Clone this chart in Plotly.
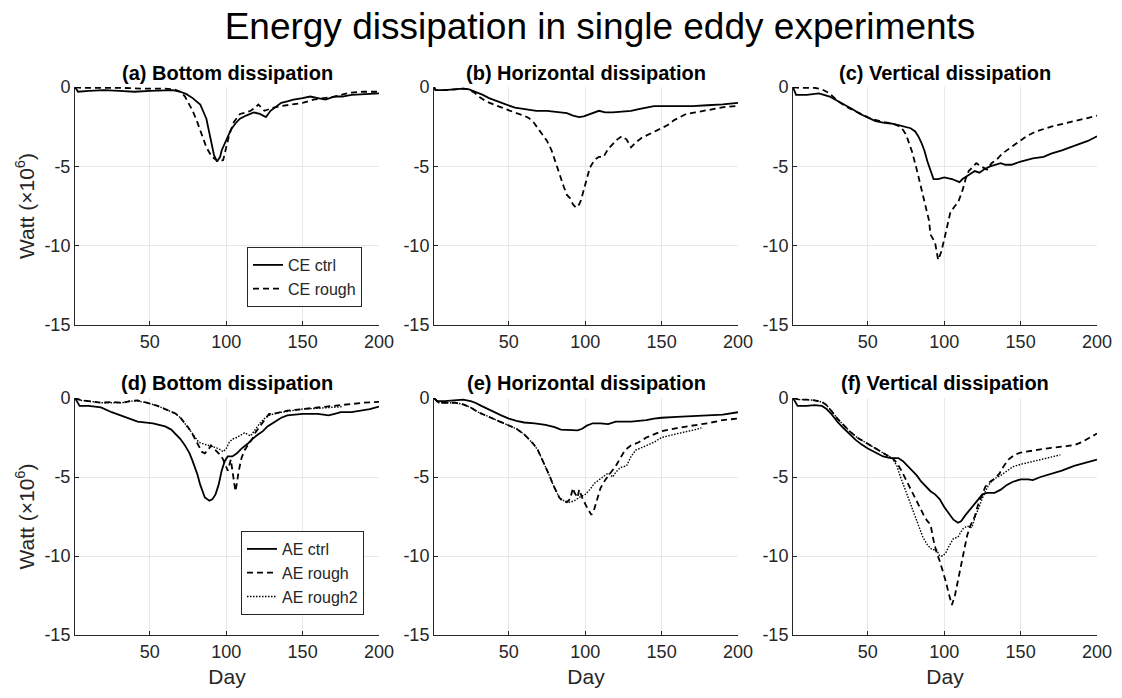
import plotly.graph_objects as go

# ---------------- data (day, Watt x 1e6) ----------------
CE_CTRL_BOTTOM = [(1,0),(3,-0.3),(10,-0.25),(20,-0.2),(30,-0.25),(40,-0.3),(50,-0.25),(60,-0.2),(65,-0.2),(70,-0.3),(74,-0.45),(78,-0.7),(83,-1.1),(87,-2.0),(90,-3.4),(92,-4.3),(94,-4.7),(96,-4.4),(97,-4.0),(100,-3.3),(103,-2.7),(106,-2.3),(109,-2.0),(113,-1.8),(118,-1.6),(122,-1.7),(126,-1.9),(129,-1.5),(132,-1.3),(136,-1.0),(140,-0.9),(144,-0.8),(150,-0.7),(155,-0.6),(160,-0.7),(165,-0.8),(171,-0.6),(176,-0.6),(182,-0.5),(190,-0.45),(200,-0.4)]
CE_ROUGH_BOTTOM = [(1,0),(5,-0.05),(15,-0.05),(30,-0.05),(45,-0.1),(60,-0.1),(66,-0.15),(70,-0.3),(73,-0.6),(76,-1.1),(78,-1.5),(81,-2.2),(83,-2.7),(87,-3.8),(90,-4.3),(92,-4.5),(95,-4.7),(98,-4.6),(100,-3.8),(102,-3.0),(105,-2.2),(109,-1.7),(113,-1.6),(116,-1.5),(119,-1.3),(121,-1.1),(123,-1.3),(125,-1.5),(128,-1.4),(131,-1.3),(136,-1.2),(142,-1.1),(150,-1.0),(157,-0.8),(165,-0.7),(171,-0.6),(177,-0.45),(182,-0.35),(190,-0.3),(200,-0.3)]

CE_CTRL_HORIZ = [(1,0),(2,-0.2),(8,-0.2),(15,-0.15),(20,-0.1),(24,-0.15),(28,-0.3),(33,-0.5),(37,-0.7),(42,-0.9),(48,-1.1),(54,-1.3),(60,-1.4),(68,-1.5),(75,-1.5),(82,-1.6),(88,-1.65),(92,-1.8),(96,-1.9),(99,-1.85),(102,-1.75),(106,-1.6),(109,-1.5),(113,-1.6),(118,-1.6),(124,-1.55),(130,-1.5),(135,-1.4),(140,-1.3),(145,-1.2),(150,-1.2),(160,-1.2),(170,-1.2),(180,-1.15),(190,-1.1),(200,-1.0)]
CE_ROUGH_HORIZ = [(1,0),(2,-0.2),(8,-0.2),(15,-0.15),(20,-0.1),(24,-0.15),(28,-0.4),(31,-0.65),(35,-0.9),(40,-1.1),(45,-1.3),(50,-1.5),(55,-1.65),(60,-1.8),(63,-1.95),(66,-2.2),(69,-2.6),(72,-3.0),(75,-3.4),(78,-4.0),(80,-4.6),(82,-5.2),(84,-5.7),(86,-6.3),(88,-6.8),(90,-7.0),(92,-7.4),(94,-7.6),(96,-7.4),(97,-7.2),(99,-6.5),(101,-5.8),(103,-5.1),(106,-4.6),(109,-4.4),(112,-4.4),(115,-3.9),(118,-3.6),(121,-3.3),(124,-3.1),(127,-3.3),(130,-3.8),(133,-3.5),(137,-3.2),(141,-3.0),(145,-2.8),(150,-2.6),(154,-2.4),(158,-2.1),(162,-1.9),(166,-1.7),(172,-1.6),(178,-1.5),(185,-1.35),(192,-1.25),(200,-1.2)]

CE_CTRL_VERT = [(1,0),(3,-0.5),(10,-0.5),(18,-0.4),(25,-0.6),(30,-0.85),(35,-1.1),(40,-1.4),(45,-1.7),(50,-1.95),(55,-2.15),(60,-2.25),(65,-2.3),(70,-2.4),(75,-2.5),(78,-2.6),(81,-2.8),(83,-3.1),(85,-3.5),(87,-4.0),(89,-4.7),(91,-5.3),(93,-5.8),(96,-5.8),(100,-5.7),(105,-5.8),(110,-6.0),(112,-5.8),(115,-5.6),(118,-5.4),(120,-5.3),(123,-5.4),(126,-5.2),(130,-5.0),(134,-4.9),(137,-4.8),(140,-4.9),(144,-4.9),(150,-4.7),(158,-4.5),(165,-4.4),(170,-4.2),(177,-4.0),(183,-3.8),(188,-3.6),(194,-3.4),(200,-3.1)]
CE_ROUGH_VERT = [(1,0),(5,-0.05),(15,-0.05),(20,-0.15),(24,-0.35),(28,-0.7),(32,-1.0),(38,-1.35),(45,-1.7),(52,-2.0),(60,-2.2),(66,-2.3),(70,-2.45),(73,-2.7),(75,-3.0),(77,-3.5),(79,-4.1),(82,-5.2),(84,-6.0),(86,-6.9),(88,-7.6),(90,-8.4),(91,-9.3),(93,-9.7),(94,-9.8),(96,-10.9),(98,-10.4),(100,-9.6),(102,-8.8),(104,-7.9),(107,-7.5),(109,-7.3),(112,-6.5),(114,-5.8),(116,-5.3),(119,-5.0),(121,-4.8),(124,-5.0),(128,-5.2),(131,-4.8),(134,-4.6),(138,-4.2),(142,-3.9),(148,-3.5),(154,-3.1),(160,-2.8),(170,-2.5),(178,-2.3),(185,-2.15),(192,-2.0),(200,-1.8)]

AE_CTRL_BOTTOM = [(1,0),(4,-0.5),(10,-0.5),(18,-0.6),(25,-0.9),(33,-1.2),(42,-1.5),(52,-1.6),(60,-1.8),(64,-2.0),(67,-2.3),(70,-2.6),(73,-3.0),(76,-3.5),(78,-4.0),(81,-4.8),(83,-5.5),(86,-6.3),(89,-6.5),(91,-6.4),(93,-6.1),(95,-5.5),(97,-4.6),(99,-4.0),(101,-3.7),(104,-3.7),(107,-3.5),(110,-3.2),(114,-2.9),(117,-2.6),(121,-2.3),(124,-2.1),(127,-1.8),(130,-1.6),(133,-1.4),(136,-1.25),(140,-1.1),(145,-1.05),(150,-1.0),(160,-1.0),(164,-1.05),(167,-1.1),(171,-1.0),(175,-0.9),(182,-0.9),(188,-0.8),(194,-0.7),(200,-0.55)]
AE_ROUGH_BOTTOM = [(1,0),(5,-0.15),(10,-0.2),(18,-0.3),(25,-0.25),(32,-0.3),(37,-0.2),(42,-0.15),(48,-0.3),(55,-0.5),(60,-0.7),(63,-0.85),(67,-1.0),(70,-1.25),(73,-1.6),(75,-1.85),(78,-2.3),(80,-2.7),(82,-3.1),(84,-3.4),(86,-3.5),(88,-3.3),(90,-3.0),(92,-3.2),(94,-3.4),(96,-3.6),(98,-3.9),(100,-4.3),(101,-4.6),(103,-3.9),(104,-4.6),(105,-5.4),(106,-5.9),(107,-5.4),(108,-4.7),(110,-3.8),(112,-3.3),(114,-3.0),(117,-2.6),(119,-2.2),(122,-1.8),(125,-1.4),(128,-1.0),(131,-1.0),(135,-0.9),(140,-0.8),(145,-0.75),(150,-0.7),(160,-0.6),(170,-0.5),(180,-0.4),(190,-0.3),(200,-0.25)]
AE_ROUGH2_BOTTOM = [(1,0),(5,-0.15),(10,-0.2),(18,-0.3),(25,-0.3),(32,-0.3),(37,-0.2),(42,-0.2),(48,-0.3),(55,-0.5),(60,-0.7),(63,-0.85),(67,-1.0),(70,-1.25),(73,-1.6),(76,-2.0),(79,-2.4),(82,-2.8),(85,-2.9),(88,-3.0),(91,-3.1),(95,-3.2),(98,-3.4),(100,-3.2),(102,-2.8),(104,-2.6),(107,-2.5),(110,-2.3),(112,-2.2),(114,-2.3),(116,-2.4),(119,-2.0),(122,-1.6),(125,-1.3),(128,-1.1),(133,-0.95),(140,-0.85),(150,-0.7),(160,-0.65),(168,-0.6),(176,-0.55)]

AE_CTRL_HORIZ = [(1,0),(3,-0.2),(8,-0.2),(15,-0.15),(20,-0.1),(25,-0.2),(28,-0.3),(32,-0.5),(36,-0.7),(40,-0.9),(45,-1.1),(50,-1.3),(55,-1.45),(60,-1.55),(67,-1.6),(74,-1.7),(80,-1.85),(84,-2.0),(90,-2.05),(95,-2.05),(98,-1.95),(101,-1.75),(105,-1.6),(110,-1.6),(115,-1.65),(120,-1.5),(125,-1.5),(130,-1.5),(135,-1.45),(140,-1.4),(145,-1.3),(150,-1.25),(160,-1.2),(170,-1.15),(180,-1.1),(190,-1.05),(200,-0.9)]
AE_ROUGH_HORIZ = [(1,0),(4,-0.3),(10,-0.3),(15,-0.3),(20,-0.4),(25,-0.6),(30,-0.9),(35,-1.1),(40,-1.3),(45,-1.5),(50,-1.7),(55,-1.95),(60,-2.3),(63,-2.6),(66,-2.9),(69,-3.3),(72,-3.9),(75,-4.5),(77,-5.0),(79,-5.5),(81,-5.9),(83,-6.3),(85,-6.5),(88,-6.6),(90,-6.4),(92,-5.7),(93,-6.0),(95,-6.3),(96,-5.8),(98,-6.3),(101,-6.9),(104,-7.4),(106,-7.0),(108,-6.3),(110,-5.7),(113,-5.2),(116,-4.8),(120,-4.3),(123,-3.8),(126,-3.3),(130,-3.0),(135,-2.8),(140,-2.5),(145,-2.3),(150,-2.1),(160,-1.9),(170,-1.75),(180,-1.6),(190,-1.4),(200,-1.3)]
AE_ROUGH2_HORIZ = [(1,0),(4,-0.3),(10,-0.3),(15,-0.3),(20,-0.4),(25,-0.6),(30,-0.9),(35,-1.1),(40,-1.3),(45,-1.5),(50,-1.7),(55,-1.95),(60,-2.3),(63,-2.6),(66,-2.9),(69,-3.3),(72,-3.9),(75,-4.5),(77,-5.0),(79,-5.5),(81,-5.9),(83,-6.3),(86,-6.5),(90,-6.6),(93,-6.5),(96,-6.3),(100,-6.1),(103,-5.8),(106,-5.4),(109,-5.2),(112,-5.0),(115,-4.75),(118,-5.0),(120,-4.7),(123,-4.4),(127,-4.3),(130,-3.7),(133,-3.3),(138,-3.1),(145,-2.8),(150,-2.5),(158,-2.3),(165,-2.15),(170,-2.05),(176,-1.9)]

AE_CTRL_VERT = [(1,0),(4,-0.5),(10,-0.5),(15,-0.45),(20,-0.5),(23,-0.7),(26,-1.0),(30,-1.5),(34,-1.9),(38,-2.3),(42,-2.65),(46,-2.95),(50,-3.2),(55,-3.45),(60,-3.7),(65,-3.8),(70,-3.8),(73,-4.0),(76,-4.3),(79,-4.6),(82,-4.9),(85,-5.3),(88,-5.6),(91,-5.9),(94,-6.1),(97,-6.4),(100,-6.9),(103,-7.3),(106,-7.7),(109,-7.9),(111,-7.8),(114,-7.4),(118,-6.9),(122,-6.4),(125,-6.1),(128,-6.0),(133,-6.0),(137,-5.8),(141,-5.5),(145,-5.3),(150,-5.15),(155,-5.15),(158,-5.2),(163,-5.0),(170,-4.8),(177,-4.6),(185,-4.3),(192,-4.1),(200,-3.9)]
AE_ROUGH_VERT = [(1,0),(5,-0.1),(10,-0.1),(15,-0.15),(20,-0.25),(23,-0.45),(26,-0.8),(30,-1.3),(34,-1.7),(38,-2.1),(43,-2.5),(48,-2.8),(53,-3.1),(58,-3.4),(63,-3.65),(66,-3.8),(69,-4.1),(72,-4.6),(75,-5.2),(78,-5.8),(81,-6.4),(84,-7.0),(87,-7.5),(89,-7.8),(91,-8.0),(93,-9.0),(95,-9.8),(97,-10.3),(99,-10.9),(101,-11.6),(103,-12.4),(105,-13.1),(107,-12.5),(109,-11.5),(111,-10.5),(113,-9.5),(115,-8.7),(117,-8.1),(120,-7.5),(122,-6.8),(125,-6.0),(127,-5.6),(130,-5.3),(133,-5.1),(136,-4.8),(139,-4.3),(142,-3.9),(146,-3.6),(150,-3.45),(160,-3.3),(170,-3.15),(180,-3.05),(186,-2.95),(190,-2.8),(195,-2.55),(200,-2.25)]
AE_ROUGH2_VERT = [(1,0),(5,-0.1),(10,-0.1),(15,-0.15),(20,-0.25),(23,-0.45),(26,-0.8),(30,-1.3),(34,-1.7),(38,-2.1),(43,-2.5),(48,-2.8),(53,-3.1),(58,-3.4),(63,-3.65),(66,-3.8),(69,-4.3),(71,-4.9),(74,-5.7),(77,-6.5),(80,-7.3),(83,-8.1),(86,-8.8),(89,-9.3),(92,-9.6),(95,-9.6),(97,-10.0),(99,-10.0),(101,-9.8),(103,-9.4),(106,-8.9),(109,-8.8),(112,-8.3),(115,-8.1),(118,-8.2),(120,-7.6),(123,-6.8),(126,-6.1),(129,-5.5),(133,-5.1),(137,-4.9),(141,-4.6),(145,-4.35),(150,-4.2),(157,-4.05),(163,-3.9),(170,-3.75),(176,-3.6)]

PANEL_TITLES = ["(a) Bottom dissipation", "(b) Horizontal dissipation", "(c) Vertical dissipation",
                "(d) Bottom dissipation", "(e) Horizontal dissipation", "(f) Vertical dissipation"]
MAIN_TITLE = "Energy dissipation in single eddy experiments"
X_TICKS = [50, 100, 150, 200]
X_TICKTEXT = ["50", "100", "150", "200"]
Y_TICKS = [0, -5, -10, -15]
Y_TICKTEXT = ["0", "-5", "-10", "-15"]
X_RANGE = [1, 200]
Y_RANGE = [-15, 0]

# ---------------- layout geometry ----------------
W, H = 1122, 698
FONT = "Liberation Sans, Arial, sans-serif"
INK = "#262626"
cols_px = [(75, 379), (434, 738), (793, 1097)]
rows_px = [(87, 325), (398, 635)]

SOLID = "solid"
DASH = "6px,4px"
DOT = "1.5px,1.5px"

panels = [
    [("CE ctrl", CE_CTRL_BOTTOM, SOLID), ("CE rough", CE_ROUGH_BOTTOM, DASH)],
    [("CE ctrl", CE_CTRL_HORIZ, SOLID), ("CE rough", CE_ROUGH_HORIZ, DASH)],
    [("CE ctrl", CE_CTRL_VERT, SOLID), ("CE rough", CE_ROUGH_VERT, DASH)],
    [("AE ctrl", AE_CTRL_BOTTOM, SOLID), ("AE rough", AE_ROUGH_BOTTOM, DASH), ("AE rough2", AE_ROUGH2_BOTTOM, DOT)],
    [("AE ctrl", AE_CTRL_HORIZ, SOLID), ("AE rough", AE_ROUGH_HORIZ, DASH), ("AE rough2", AE_ROUGH2_HORIZ, DOT)],
    [("AE ctrl", AE_CTRL_VERT, SOLID), ("AE rough", AE_ROUGH_VERT, DASH), ("AE rough2", AE_ROUGH2_VERT, DOT)],
]

fig = go.Figure()
layout = dict(
    width=W, height=H, margin=dict(l=0, r=0, t=0, b=0, autoexpand=False),
    paper_bgcolor="white", plot_bgcolor="white",
    font=dict(family=FONT, color=INK, size=18),
    title=dict(text=MAIN_TITLE, x=600 / W, xanchor="center", y=1 - 26 / H, yanchor="middle",
               font=dict(size=37, color="black", family=FONT)),
    annotations=[],
)

for i, series in enumerate(panels):
    r, c = divmod(i, 3)
    n = i + 1
    xa = "x" if n == 1 else f"x{n}"
    ya = "y" if n == 1 else f"y{n}"
    legend_name = "legend" if i == 0 else ("legend2" if i == 3 else None)
    for name, pts, dash in series:
        fig.add_trace(go.Scatter(
            x=[p[0] for p in pts], y=[p[1] for p in pts], mode="lines", name=name,
            line=dict(color="black", width=1.8 if dash != DOT else 1.4, dash=dash),
            xaxis=xa, yaxis=ya,
            showlegend=legend_name is not None,
            legend=legend_name if legend_name else "legend",
        ))
    x0, x1 = cols_px[c]
    y0, y1 = rows_px[r]
    layout["xaxis" if n == 1 else f"xaxis{n}"] = dict(
        domain=[x0 / W, x1 / W], anchor=ya, range=X_RANGE,
        tickmode="array", tickvals=X_TICKS, ticktext=X_TICKTEXT,
        showline=True, linecolor=INK, linewidth=1, mirror=False, automargin=False,
        ticks="inside", ticklen=4, tickcolor=INK,
        showgrid=True, gridcolor="#e8e8e8", zeroline=False,
        tickfont=dict(size=18, color=INK),
        title=dict(text="Day", font=dict(size=21, color=INK), standoff=8) if r == 1 else None,
    )
    layout["yaxis" if n == 1 else f"yaxis{n}"] = dict(
        domain=[1 - y1 / H, 1 - y0 / H], anchor=xa, range=Y_RANGE,
        tickmode="array", tickvals=Y_TICKS, ticktext=Y_TICKTEXT,
        showline=True, linecolor=INK, linewidth=1, mirror=False, automargin=False,
        ticks="inside", ticklen=4, tickcolor=INK,
        showgrid=True, gridcolor="#e8e8e8", zeroline=False,
        tickfont=dict(size=18, color=INK),
        title=dict(text="Watt (×10<sup>6</sup>)", font=dict(size=21, color=INK), standoff=4) if c == 0 else None,
    )
    title_y = 73 if r == 0 else 383
    layout["annotations"].append(dict(
        text=f"<b>{PANEL_TITLES[i]}</b>", x=(x0 + x1) / 2 / W, y=1 - title_y / H,
        xref="paper", yref="paper", xanchor="center", yanchor="middle", showarrow=False,
        font=dict(size=20, color="black", family=FONT),
    ))

legend_style = dict(bgcolor="white", bordercolor=INK, borderwidth=1,
                    font=dict(size=16, color=INK, family=FONT), tracegroupgap=0,
                    xanchor="right", yanchor="middle")
layout["legend"] = dict(x=362 / W, y=1 - 277 / H, **legend_style)
layout["legend2"] = dict(x=364 / W, y=1 - 573 / H, **legend_style)

fig.update_layout(**layout)
fig.write_html("out.html")
